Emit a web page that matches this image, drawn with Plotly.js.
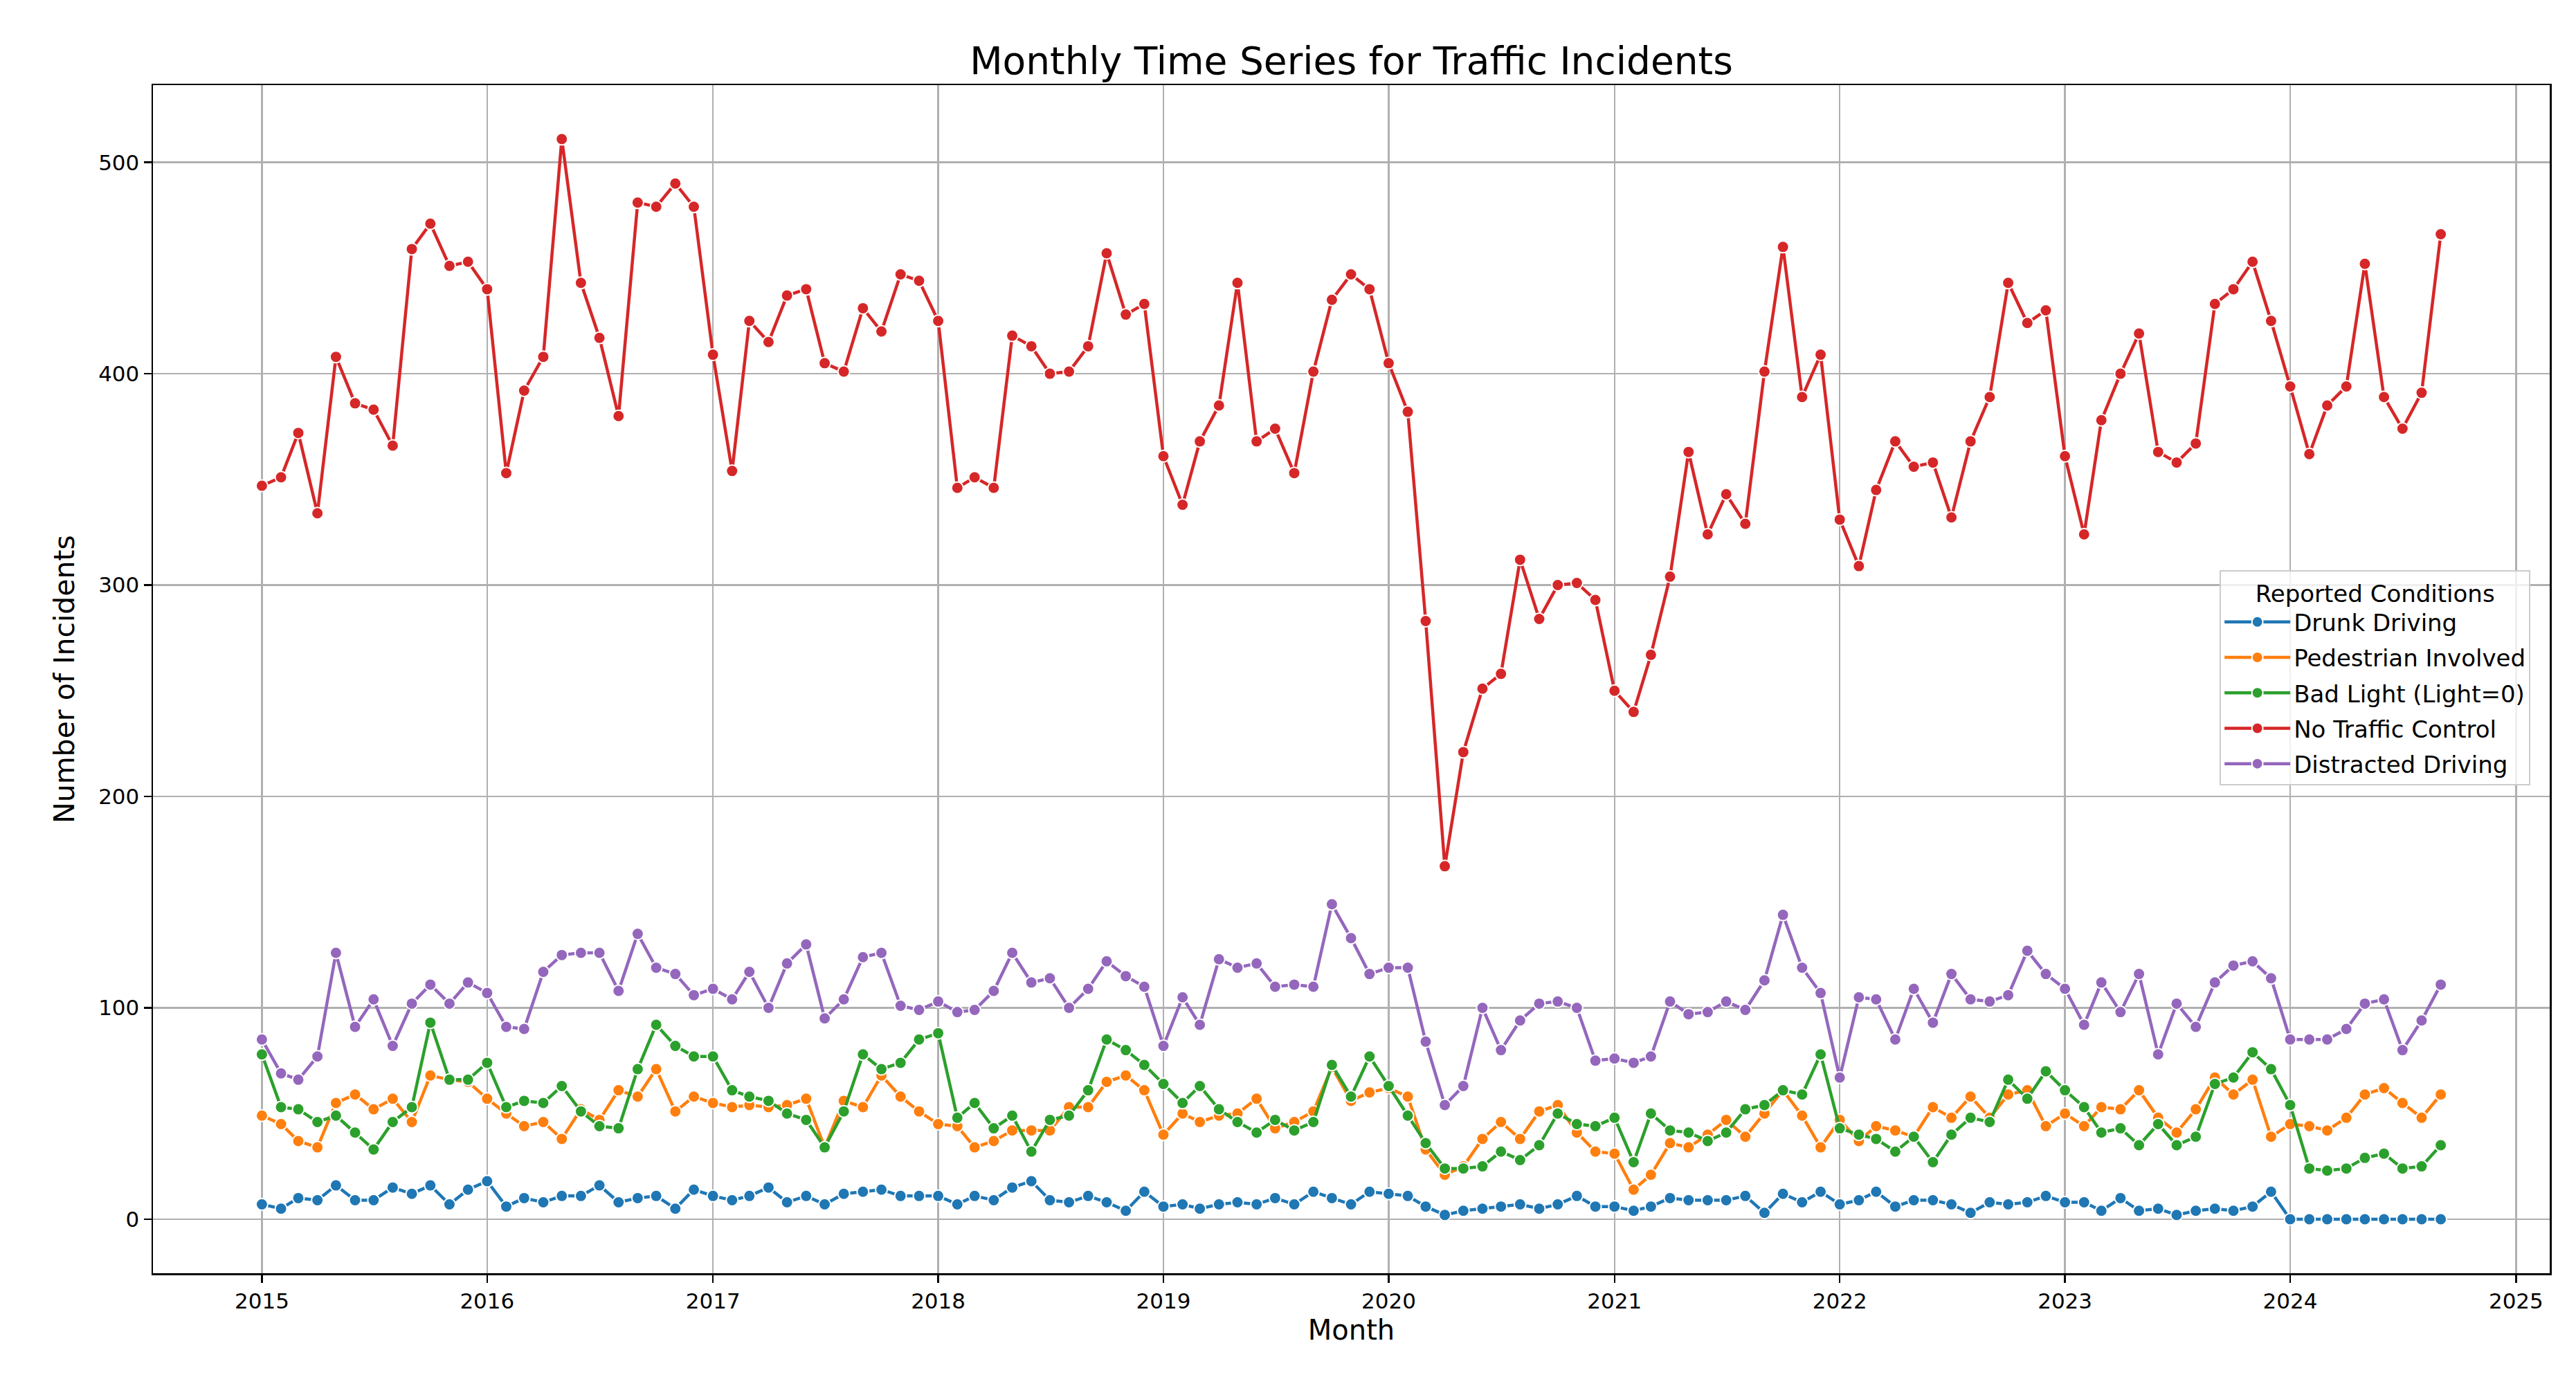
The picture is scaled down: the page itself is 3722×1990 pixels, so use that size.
<!DOCTYPE html>
<html>
<head>
<meta charset="utf-8">
<script src="https://cdn.plot.ly/plotly-3.0.1.min.js"></script>
<style>html,body{margin:0;padding:0;background:#fff;}#chart{width:3722px;height:1990px;}</style>
</head>
<body>
<div id="chart"></div>
<script>
// ---- data (monthly, Jan 2015 .. Sep 2024) ----
const startYear = 2015, startMonth = 1, monthCount = 117;
const seriesNames = ["Drunk Driving", "Pedestrian Involved", "Bad Light (Light=0)", "No Traffic Control", "Distracted Driving"];
const seriesColors = ["#1f77b4", "#ff7f0e", "#2ca02c", "#d62728", "#9467bd"];

const drunkDriving = [
  7,5,10,9,16,9,9,15,12,16,7,14,
  18,6,10,8,11,11,16,8,10,11,5,14,
  11,9,11,15,8,11,7,12,13,14,11,11,
  11,7,11,9,15,18,9,8,11,8,4,13,
  6,7,5,7,8,7,10,7,13,10,7,13,
  12,11,6,2,4,5,6,7,5,7,11,6,
  6,4,6,10,9,9,9,11,3,12,8,13,
  7,9,13,6,9,9,7,3,8,7,8,11,
  8,8,4,10,4,5,2,4,5,4,6,13,
  0,0,0,0,0,0,0,0,0
];
const pedestrianInvolved = [
  49,45,37,34,55,59,52,57,46,68,66,65,
  57,50,44,46,38,52,47,61,58,71,51,58,
  55,53,54,53,54,57,34,56,53,68,58,51,
  45,44,34,37,42,42,42,53,53,65,68,61,
  40,50,46,49,50,57,43,46,51,72,56,60,
  62,58,33,21,25,38,46,38,51,54,41,32,
  31,14,21,36,34,40,47,39,50,61,49,34,
  47,37,44,42,39,53,48,58,48,59,61,44,
  50,44,53,52,61,48,41,52,67,59,66,39,
  45,44,42,48,59,62,55,48,59
];
const badLight = [
  78,53,52,46,49,41,33,46,53,93,66,66,
  74,53,56,55,63,51,44,43,71,92,82,77,
  77,61,58,56,50,47,34,51,78,71,74,85,
  88,48,55,43,49,32,47,49,61,85,80,73,
  64,55,63,52,46,41,47,42,46,73,58,77,
  63,49,36,24,24,25,32,28,35,50,45,44,
  48,27,50,42,41,37,41,52,54,61,59,78,
  43,40,38,32,39,27,40,48,46,66,57,70,
  61,53,41,43,35,45,35,39,64,67,79,71,
  54,24,23,24,29,31,24,25,35
];
const noTrafficControl = [
  347,351,372,334,408,386,383,366,459,471,451,453,
  440,353,392,408,511,443,417,380,481,479,490,479,
  409,354,425,415,437,440,405,401,431,420,447,444,
  425,346,351,346,418,413,400,401,413,457,428,433,
  361,338,368,385,443,368,374,353,401,435,447,440,
  405,382,283,167,221,251,258,312,284,300,301,293,
  250,240,267,304,363,324,343,329,401,460,389,409,
  331,309,345,368,356,358,332,368,389,443,424,430,
  361,324,378,400,419,363,358,367,433,440,453,425,
  394,362,385,394,452,389,374,391,466
];
const distractedDriving = [
  85,69,66,77,126,91,104,82,102,111,102,112,
  107,91,90,117,125,126,126,108,135,119,116,106,
  109,104,117,100,121,130,95,104,124,126,101,99,
  103,98,99,108,126,112,114,100,109,122,115,110,
  82,105,92,123,119,121,110,111,110,149,133,116,
  119,119,84,54,63,100,80,94,102,103,100,75,
  76,74,77,103,97,98,103,99,113,144,119,107,
  67,105,104,85,109,93,116,104,103,106,127,116,
  109,92,112,98,116,78,102,91,112,120,122,114,
  85,85,85,90,102,104,80,94,111
];
const yTicks = [0, 100, 200, 300, 400, 500];
const xTickYears = [2015, 2016, 2017, 2018, 2019, 2020, 2021, 2022, 2023, 2024, 2025];

// ---- month labels ----
const months = [];
for (let i = 0; i < monthCount; i++) {
  const m0 = startMonth - 1 + i;
  const y = startYear + Math.floor(m0 / 12);
  const m = (m0 % 12) + 1;
  months.push(y + "-" + String(m).padStart(2, "0") + "-01");
}

const allSeries = [drunkDriving, pedestrianInvolved, badLight, noTrafficControl, distractedDriving];
const FONT = "DejaVu Sans, Liberation Sans, sans-serif";

const traces = allSeries.map((vals, k) => ({
  type: "scatter",
  mode: "lines+markers",
  name: seriesNames[k],
  legendgroup: "g" + k,
  x: months,
  y: vals,
  line: { color: seriesColors[k], width: 4.5 },
  marker: { color: seriesColors[k], size: 17, line: { color: "#ffffff", width: 2 } }
}));

// matplotlib-like 5% margins
const t0 = new Date(months[0] + "T00:00:00Z").getTime();
const t1 = new Date(months[months.length - 1] + "T00:00:00Z").getTime();
const pad = (t1 - t0) * 0.05;
const iso = t => new Date(t).toISOString().slice(0, 19).replace("T", " ");
let ymin = Infinity, ymax = -Infinity;
allSeries.forEach(s => s.forEach(v => { ymin = Math.min(ymin, v); ymax = Math.max(ymax, v); }));
const ypad = (ymax - ymin) * 0.05;

const layout = {
  width: 3722, height: 1990,
  paper_bgcolor: "#ffffff", plot_bgcolor: "#ffffff",
  margin: { l: 221, r: 38, t: 123, b: 150 },
  font: { family: FONT, color: "#000000", size: 31 },
  title: {
    text: "Monthly Time Series for Traffic Incidents",
    font: { family: FONT, size: 55, color: "#000000" },
    x: 0.5, xref: "paper", xanchor: "center",
    y: 1 - 88 / 1990, yref: "container", yanchor: "middle"
  },
  xaxis: {
    type: "date",
    range: [iso(t0 - pad), iso(t1 + pad)],
    tickvals: xTickYears.map(y => y + "-01-01"),
    ticktext: xTickYears.map(String),
    ticks: "outside", ticklen: 11, tickwidth: 2.5, tickcolor: "#000000",
    tickfont: { family: FONT, size: 31, color: "#000000" },
    showgrid: true, gridcolor: "#b0b0b0", gridwidth: 2.5,
    zeroline: false,
    showline: true, linecolor: "#000000", linewidth: 2.5, mirror: true,
    title: { text: "Month", font: { family: FONT, size: 40, color: "#000000" }, standoff: 12 }
  },
  yaxis: {
    range: [ymin - ypad, ymax + ypad],
    tickvals: yTicks,
    ticktext: yTicks.map(String),
    ticks: "outside", ticklen: 11, tickwidth: 2.5, tickcolor: "#000000",
    tickfont: { family: FONT, size: 31, color: "#000000" },
    showgrid: true, gridcolor: "#b0b0b0", gridwidth: 2.5,
    zeroline: false,
    showline: true, linecolor: "#000000", linewidth: 2.5, mirror: true,
    title: { text: "Number of Incidents", font: { family: FONT, size: 41, color: "#000000" }, standoff: 22 }
  },
  legend: {
    x: 0.8623, y: 0.5917, xanchor: "left", yanchor: "top",
    bgcolor: "rgba(255,255,255,0.8)", bordercolor: "#cccccc", borderwidth: 2,
    font: { family: FONT, size: 34, color: "#000000" },
    title: { text: "Reported Conditions", side: "top center", font: { family: FONT, size: 34, color: "#000000" } },
    itemwidth: 95,
    tracegroupgap: 4
  },
  showlegend: true
};

Plotly.newPlot("chart", traces, layout, { displayModeBar: false, staticPlot: true });
</script>
</body>
</html>
